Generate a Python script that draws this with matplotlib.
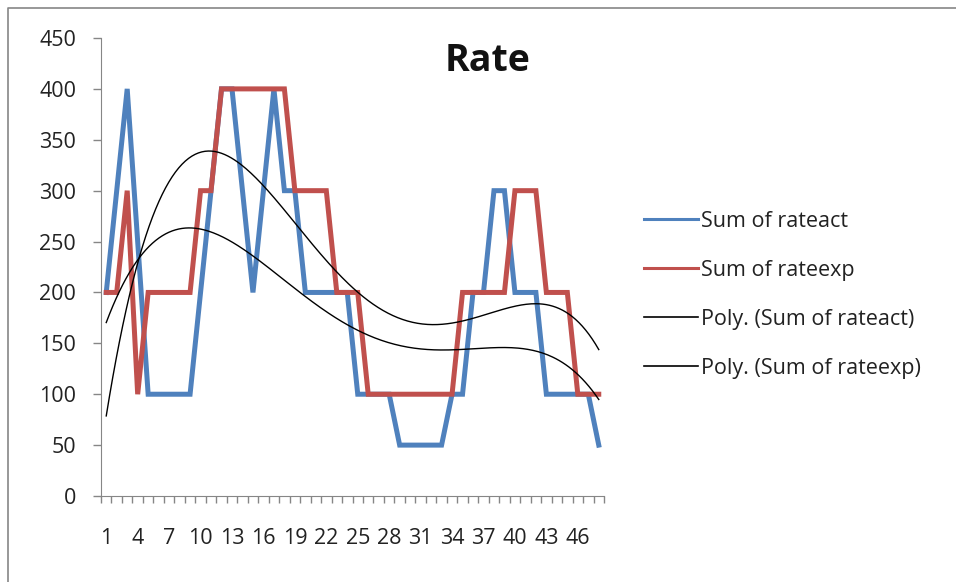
import numpy as np
import matplotlib

matplotlib.use("Agg")
import matplotlib.pyplot as plt  # noqa: E402
from matplotlib.lines import Line2D  # noqa: E402

plt.rcParams["font.family"] = ["Open Sans", "DejaVu Sans"]

periods = list(range(1, 49))
rateact = [200, 300, 400, 250, 100, 100, 100, 100, 100, 200, 300, 400,
           400, 300, 200, 300, 400, 300, 300, 200, 200, 200, 200, 200,
           100, 100, 100, 100, 50, 50, 50, 50, 50, 100, 100, 200,
           200, 300, 300, 200, 200, 200, 100, 100, 100, 100, 100, 50]
rateexp = [200, 200, 300, 100, 200, 200, 200, 200, 200, 300, 300, 400,
           400, 400, 400, 400, 400, 400, 300, 300, 300, 300, 200, 200,
           200, 100, 100, 100, 100, 100, 100, 100, 100, 100, 200, 200,
           200, 200, 200, 300, 300, 300, 200, 200, 200, 100, 100, 100]
labels = ["Sum of rateact", "Sum of rateexp",
          "Poly. (Sum of rateact)", "Poly. (Sum of rateexp)"]
POLY_ORDER = 4  # Excel polynomial trendline order

BLUE = "#4F81BD"
RED = "#C0504D"
AXIS = "#868686"
TEXT = "#222222"

fig = plt.figure(figsize=(9.56, 5.82), dpi=100)
ax = fig.add_axes([101 / 956, 1 - 496 / 582, 503 / 956, 458 / 582])

x = np.array(periods, float)
ax.plot(x, rateact, color=BLUE, lw=3.6, solid_joinstyle="miter")
ax.plot(x, rateexp, color=RED, lw=3.6, solid_joinstyle="miter")

# polynomial trendlines, least-squares fit like Excel does
xs = np.linspace(1, 48, 300)
for ys in (rateact, rateexp):
    ax.plot(xs, np.polyval(np.polyfit(x, ys, POLY_ORDER), xs),
            color="black", lw=1.0)

ax.set_xlim(0.5, 48.5)
ax.set_ylim(0, 450)
ax.set_yticks(range(0, 451, 50))
ax.set_xticks(np.arange(0.5, 49, 1))
ax.set_xticklabels([])
ax.set_xticks(periods[::3], minor=True)
ax.set_xticklabels([str(p) for p in periods[::3]], minor=True)
ax.tick_params(axis="x", which="major", direction="out", length=5,
               color=AXIS, width=1)
ax.tick_params(axis="x", which="minor", length=0, pad=23, labelsize=15.5,
               labelcolor=TEXT)
ax.tick_params(axis="y", direction="out", length=6, color=AXIS, width=1,
               labelsize=15.5, labelcolor=TEXT, pad=12)
for s in ("top", "right"):
    ax.spines[s].set_visible(False)
for s in ("left", "bottom"):
    ax.spines[s].set_color(AXIS)

fig.text(488 / 956, 1 - 61 / 582, "Rate", ha="center", va="center",
         fontsize=27, fontweight="bold", color="#111111")

handles = [Line2D([], [], color=BLUE, lw=2.2),
           Line2D([], [], color=RED, lw=2.2),
           Line2D([], [], color="black", lw=1.2),
           Line2D([], [], color="black", lw=1.2)]
fig.legend(handles, labels, loc="center left",
           bbox_to_anchor=(625 / 956, 1 - 295 / 582), frameon=False,
           fontsize=15.5, handlelength=2.5, handletextpad=0.15,
           labelspacing=1.3, labelcolor=TEXT)

# chart-area border (only left and top edges fall inside the picture)
fig.add_artist(Line2D([8 / 956, 8 / 956, 1], [0, 1 - 8 / 582, 1 - 8 / 582],
                      color=AXIS, lw=1.2, transform=fig.transFigure))

fig.savefig("out.png", dpi=100)
